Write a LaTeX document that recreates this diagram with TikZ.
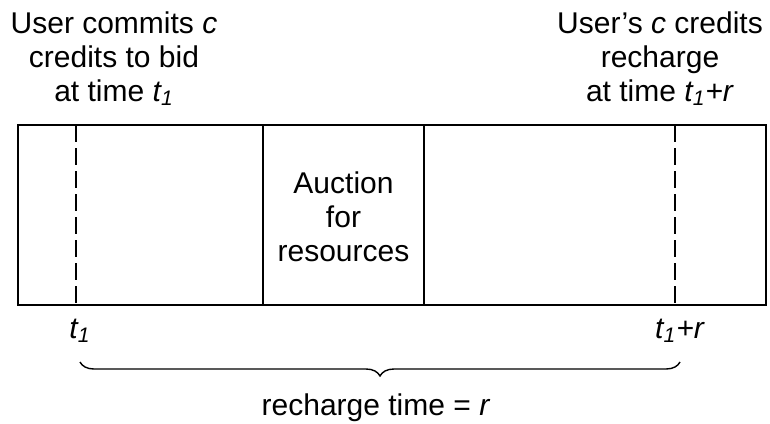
\documentclass[tikz,border=0pt]{standalone}
\usepackage{fontspec}
\setmainfont{Liberation Sans}
\usetikzlibrary{decorations.pathreplacing}
\newcommand{\tone}{\textit{t\textsubscript{1}}}

\begin{document}
\begin{tikzpicture}[x=0.5pt,y=-0.5pt]
\tikzset{lbl/.style={font=\fontsize{15}{17}\selectfont, inner sep=0pt, align=center},
         mark line/.style={line width=1pt, dash pattern=on 8.5pt off 3pt}}
\useasboundingbox (0,0) rectangle (770,423);

% the time line
\draw[line width=1pt] (18,125) rectangle (766,305);
\draw[line width=1pt] (263,125) -- (263,305);
\draw[line width=1pt] (424,125) -- (424,305);
\draw[mark line] (76,125) -- (76,305);
\draw[mark line] (675,125) -- (675,305);

\node[lbl] (auction) at (343.5,217) {Auction\\for\\resources};

% top labels
\node[lbl, anchor=north] (commit) at (114,11) {User commits \textit{c}\\credits to bid\\at time \tone};
\node[lbl, anchor=north] (recharge) at (660,11) {User's \textit{c} credits\\recharge\\at time \tone\textit{+r}};

% bottom labels
\node[lbl, anchor=base] (tstart) at (80,338) {\tone};
\node[lbl, anchor=base] (tend) at (680,338) {\tone\textit{+r}};
\coordinate (bleft) at (80,362);
\coordinate (bright) at (680,362);
\draw[line width=0.7pt, decorate, decoration={brace, mirror, amplitude=7pt}] (bleft) -- (bright);
\node[lbl, anchor=base] (rtime) at (376,415) {recharge time = \textit{r}};

\end{tikzpicture}
\end{document}
